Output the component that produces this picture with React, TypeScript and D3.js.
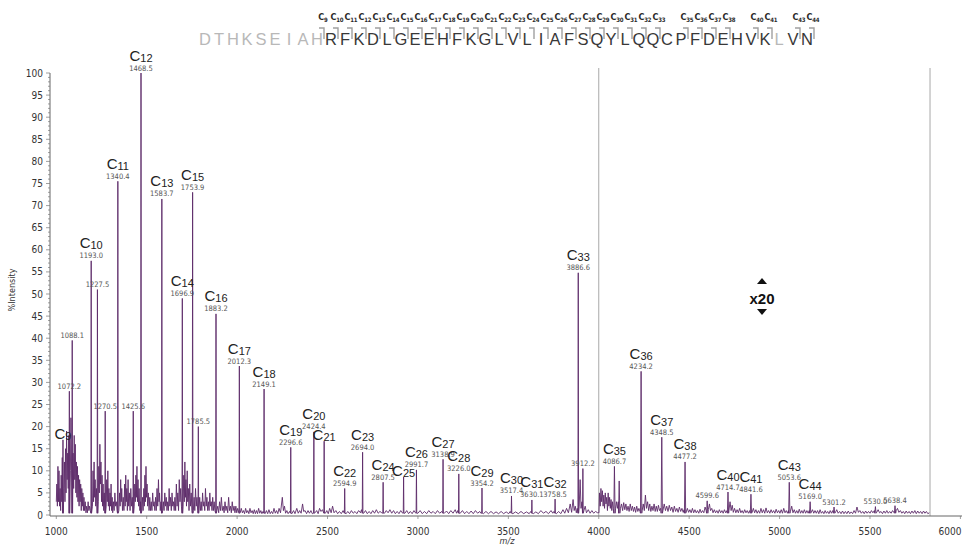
import React from "react";
import * as d3 from "d3";

const WIDTH = 962;
const HEIGHT = 546;

// Annotated peaks of the top-down spectrum: m/z, %intensity, c-ion number (0 = none)
const PEAK_MZ = [1036.9, 1072.2, 1088.1, 1193.0, 1227.5, 1270.5, 1340.4, 1425.6, 1468.5, 1583.7, 1696.9, 1753.9, 1785.5, 1883.2, 2012.3, 2149.1, 2296.6, 2424.4, 2481.4, 2594.9, 2694.0, 2807.5, 2920.7, 2991.7, 3138.9, 3226.0, 3354.2, 3517.4, 3630.1, 3758.5, 3886.6, 3912.2, 4086.7, 4113.0, 4234.2, 4348.5, 4477.2, 4599.6, 4714.7, 4841.6, 5053.6, 5169.0, 5301.2, 5530.0, 5638.4];
const PEAK_INT = [17, 28, 39.5, 57.5, 51, 23.5, 75.5, 23.5, 100, 71.5, 49, 73, 20, 45.5, 33.7, 28.5, 15.3, 18.8, 16.7, 6, 14.2, 7.4, 8.6, 10.2, 12.6, 9.3, 6.1, 4.3, 3.4, 3.6, 54.8, 10.5, 11, 7.7, 32.5, 17.6, 12, 3.2, 5.2, 4.7, 7.4, 3, 1.8, 1.9, 2.1];
const PEAK_ION = [9, 0, 0, 10, 0, 0, 11, 0, 12, 13, 14, 15, 0, 16, 17, 18, 19, 20, 21, 22, 23, 24, 25, 26, 27, 28, 29, 30, 31, 32, 33, 0, 35, 0, 36, 37, 38, 0, 40, 41, 43, 44, 0, 0, 0];
// peaks drawn without an m/z tag
const UNTAGGED_MZ = [1036.9, 2481.4, 2920.7, 4113.0];

// Baseline / chemical noise, [m/z, %intensity]
const NOISE_MAIN: [number, number][] = [
  [1000, 3], [1003, 7], [1006, 2], [1009, 11], [1012, 3], [1015, 10], [1018, 2], [1021, 6], [1024, 1], [1027, 9], [1030, 3], [1033, 13],
  [1042, 6], [1045, 12], [1048, 3], [1051, 15], [1054, 5], [1057, 19], [1060, 8], [1063, 14], [1066, 6], [1069, 18],
  [1078, 10], [1081, 22], [1084, 12], [1093, 14], [1096, 6], [1099, 18], [1102, 8], [1105, 16], [1108, 5], [1111, 12], [1114, 4],
  [1117, 11], [1120, 3], [1123, 9], [1126, 2], [1129, 8], [1132, 3], [1135, 7], [1138, 1], [1141, 6], [1144, 2], [1147, 5], [1150, 1],
  [1153, 4], [1156, 1], [1160, 3], [1164, 0.5], [1168, 2], [1172, 0.5], [1176, 3], [1180, 1], [1184, 2], [1188, 1],
  [1200, 2], [1203, 10], [1206, 3], [1209, 12], [1212, 4], [1215, 8], [1218, 2], [1222, 6], [1232, 3], [1235, 11], [1238, 5],
  [1241, 16], [1244, 7], [1247, 12], [1250, 3], [1253, 9], [1256, 2], [1259, 7], [1262, 1], [1265, 5], [1276, 2], [1279, 8],
  [1282, 3], [1285, 10], [1288, 2], [1291, 6], [1294, 1], [1297, 5], [1300, 2], [1303, 7], [1306, 1], [1309, 4], [1312, 0.5],
  [1316, 3], [1320, 1], [1324, 5], [1328, 2], [1332, 3], [1336, 1],
  [1346, 1], [1350, 5], [1353, 2], [1356, 8], [1359, 3], [1362, 6], [1366, 1], [1370, 4], [1374, 1], [1378, 7], [1381, 2], [1384, 9],
  [1387, 3], [1390, 6], [1393, 1], [1397, 8], [1400, 2], [1404, 5], [1408, 1], [1412, 6], [1416, 2], [1420, 4], [1431, 2], [1434, 7],
  [1437, 3], [1440, 9], [1443, 4], [1446, 11], [1449, 3], [1452, 8], [1455, 2], [1458, 6], [1462, 1], [1465, 3],
  [1473, 1], [1477, 4], [1480, 1], [1484, 6], [1487, 2], [1490, 9], [1493, 3], [1496, 11], [1499, 4], [1502, 7], [1505, 2], [1509, 5],
  [1513, 1], [1517, 4], [1521, 1], [1525, 3], [1529, 1], [1533, 5], [1537, 2], [1541, 3], [1545, 1], [1549, 4], [1553, 1], [1557, 6],
  [1561, 2], [1565, 8], [1568, 3], [1571, 5], [1575, 1], [1579, 3],
  [1588, 1], [1592, 3], [1596, 1], [1600, 5], [1604, 2], [1608, 4], [1612, 1], [1616, 3], [1620, 1], [1624, 6], [1628, 2], [1632, 4],
  [1636, 1], [1640, 5], [1644, 2], [1648, 3], [1652, 1], [1656, 4], [1660, 1], [1664, 7], [1668, 2], [1672, 5], [1676, 1], [1680, 8],
  [1684, 3], [1688, 6], [1692, 2],
  [1701, 2], [1705, 9], [1708, 3], [1711, 12], [1714, 4], [1717, 8], [1720, 2], [1724, 10], [1727, 3], [1730, 6], [1734, 1], [1738, 7],
  [1742, 2], [1746, 5], [1750, 1],
  [1758, 1], [1762, 4], [1766, 1], [1770, 6], [1774, 2], [1778, 4], [1782, 1], [1789, 1], [1793, 4], [1797, 1], [1801, 3], [1805, 1],
  [1809, 5], [1813, 2], [1817, 3], [1821, 1], [1825, 6], [1829, 2], [1833, 4], [1837, 1], [1841, 3], [1845, 1], [1849, 5], [1853, 2],
  [1857, 3], [1861, 1], [1865, 4], [1869, 1], [1873, 3], [1877, 1],
  [1888, 1], [1893, 2], [1898, 0.5], [1903, 3], [1908, 1], [1913, 4], [1918, 1], [1923, 2], [1928, 0.5], [1933, 3], [1938, 1], [1943, 2],
  [1948, 0.5], [1953, 4], [1958, 1], [1963, 2], [1968, 0.5], [1973, 3], [1978, 1], [1983, 2], [1988, 0.5], [1993, 2], [1998, 0.5], [2003, 1.5],
  [2017, 0.5], [2023, 1.5], [2029, 0.5], [2035, 1], [2041, 0.3], [2047, 1.5], [2053, 0.5], [2059, 1], [2065, 0.3], [2071, 1.5], [2077, 0.5],
  [2083, 1], [2089, 0.3], [2095, 1.2], [2101, 0.3], [2107, 1], [2113, 0.3], [2119, 1.5], [2125, 0.4], [2131, 1], [2137, 0.3], [2143, 0.8],
  [2155, 0.3], [2162, 1], [2169, 0.3], [2176, 1.2], [2183, 0.3], [2190, 0.8], [2197, 0.3], [2204, 1.5], [2211, 0.4], [2218, 1], [2225, 0.3],
  [2232, 1.5], [2240, 0.5], [2250, 4], [2256, 1], [2262, 2], [2268, 0.4], [2275, 1], [2282, 0.3], [2290, 0.8],
  [2303, 0.3], [2312, 1], [2320, 0.3], [2330, 1.5], [2338, 0.4], [2346, 1], [2354, 0.4], [2362, 2.5], [2368, 0.8], [2376, 1], [2384, 0.3],
  [2392, 1], [2400, 0.4], [2408, 1], [2416, 0.3],
  [2431, 0.5], [2440, 1], [2448, 0.3], [2456, 1.5], [2464, 0.8], [2472, 1.2],
  [2488, 0.4], [2496, 1], [2504, 0.3], [2512, 1.5], [2520, 0.5], [2528, 2], [2536, 0.5], [2546, 1], [2556, 0.3], [2566, 0.8], [2576, 0.3], [2586, 1],
  [2603, 0.3], [2612, 0.8], [2622, 0.3], [2632, 1], [2642, 0.4], [2652, 0.8], [2662, 0.3], [2672, 1], [2682, 0.5], [2688, 1.2],
  [2700, 0.4], [2710, 1], [2720, 0.3], [2730, 0.8], [2740, 0.3], [2750, 1], [2760, 0.4], [2770, 1.2], [2780, 0.4], [2790, 0.8], [2800, 0.5],
  [2815, 0.4], [2825, 1], [2835, 0.5], [2845, 1.2], [2855, 0.4], [2865, 1], [2875, 0.3], [2885, 0.8], [2895, 0.3], [2905, 1], [2913, 0.5],
  [2928, 0.4], [2938, 1], [2948, 0.3], [2958, 0.8], [2968, 0.3], [2978, 1], [2986, 0.5],
  [3000, 0.4], [3012, 1], [3024, 0.3], [3036, 0.8], [3048, 0.3], [3060, 1], [3072, 0.4], [3084, 0.8], [3096, 0.3], [3108, 1], [3120, 0.4], [3132, 0.8],
  [3146, 0.4], [3158, 0.9], [3170, 0.3], [3182, 1], [3194, 0.4], [3206, 1.2], [3214, 0.4], [3220, 1],
  [3234, 0.4], [3246, 1], [3258, 0.3], [3270, 0.8], [3282, 0.3], [3294, 0.9], [3306, 0.3], [3318, 1], [3330, 0.4], [3342, 0.8], [3348, 0.4],
  [3362, 0.3], [3376, 0.8], [3390, 0.3], [3404, 0.8], [3418, 0.3], [3432, 0.7], [3446, 0.3], [3460, 0.8], [3474, 0.3], [3488, 0.7], [3502, 0.3], [3510, 0.8],
  [3525, 0.3], [3540, 0.7], [3555, 0.3], [3570, 0.8], [3585, 0.3], [3600, 0.7], [3615, 0.3], [3624, 0.8],
  [3638, 0.3], [3652, 0.7], [3666, 0.3], [3680, 1], [3694, 0.4], [3708, 0.8], [3722, 0.3], [3736, 1], [3746, 0.4], [3752, 0.8],
  [3766, 0.3], [3778, 0.8], [3790, 0.3], [3802, 1.2], [3812, 0.4], [3822, 1.5], [3832, 0.5], [3842, 2.5], [3850, 0.6], [3858, 3.5], [3864, 1],
  [3870, 2], [3876, 0.5], [3881, 1.5],
  [3892, 2], [3897, 8], [3902, 1.5], [3907, 3],
  [3918, 1], [3925, 2], [3932, 0.5], [3942, 1.2], [3952, 0.4], [3962, 1], [3972, 0.4], [3982, 0.8], [3994, 0.5],
];

// Noise above m/z 4000, already shown at x20
const NOISE_X20: [number, number][] = [
  [4001, 0.5], [4004, 5], [4008, 2], [4012, 6], [4016, 3], [4020, 5.5], [4024, 2], [4028, 4.5], [4032, 1.5], [4036, 5], [4040, 2.5],
  [4044, 4], [4048, 1], [4052, 5], [4056, 2], [4060, 4], [4064, 1.5], [4068, 3.5], [4072, 1], [4076, 3], [4080, 1.5],
  [4093, 1.5], [4098, 3], [4103, 1.5], [4108, 3], [4120, 1.5], [4126, 2.5], [4132, 1], [4138, 2.8], [4144, 1.2], [4150, 2.5], [4156, 1],
  [4162, 2], [4168, 0.8], [4174, 2.5], [4180, 1], [4186, 2], [4192, 0.8], [4198, 1.8], [4204, 0.6], [4210, 2], [4216, 0.8], [4222, 1.5], [4228, 0.8],
  [4240, 1], [4246, 2.5], [4252, 1], [4258, 4.5], [4264, 1.5], [4270, 3], [4276, 1], [4282, 2.5], [4288, 0.8], [4294, 2], [4300, 1],
  [4306, 2.5], [4312, 0.8], [4318, 2], [4324, 0.8], [4330, 2.2], [4336, 1], [4342, 1.5],
  [4355, 1], [4362, 2.5], [4369, 1], [4376, 2], [4383, 0.8], [4390, 2.2], [4397, 1], [4404, 1.8], [4411, 0.6], [4418, 2], [4425, 0.8],
  [4432, 1.5], [4439, 0.6], [4446, 1.8], [4453, 0.8], [4460, 1.5], [4467, 0.6], [4472, 1.2],
  [4483, 0.6], [4490, 1.5], [4497, 0.6], [4504, 1.2], [4511, 0.5], [4518, 1.5], [4525, 0.5], [4532, 1.2], [4539, 0.5], [4546, 1],
  [4553, 0.4], [4560, 1.3], [4567, 0.5], [4574, 1], [4581, 0.5], [4588, 1.8], [4594, 1],
  [4606, 1.2], [4612, 2.5], [4618, 1], [4625, 1.5], [4632, 0.5], [4639, 1.2], [4646, 0.5], [4653, 1], [4660, 0.4], [4667, 1.2], [4674, 0.5],
  [4681, 1], [4688, 0.4], [4695, 1.2], [4702, 0.5], [4709, 1],
  [4720, 1], [4726, 3], [4732, 1], [4738, 2.2], [4744, 0.6], [4751, 1.5], [4758, 0.5], [4765, 1.2], [4772, 0.5], [4779, 1.5], [4786, 0.5],
  [4793, 1], [4800, 0.4], [4807, 1.2], [4814, 0.5], [4821, 1], [4828, 0.4], [4835, 1],
  [4848, 0.6], [4855, 1.5], [4862, 0.5], [4869, 1.2], [4876, 0.4], [4883, 1], [4890, 0.4], [4897, 1.5], [4904, 0.5], [4911, 1.2], [4918, 0.4],
  [4925, 1.6], [4932, 0.5], [4939, 1], [4946, 0.4], [4953, 1.2], [4960, 0.5], [4967, 1], [4974, 0.4], [4981, 1.3], [4988, 0.5], [4995, 1],
  [5002, 0.4], [5009, 1.2], [5016, 0.4], [5023, 1.5], [5030, 0.5], [5037, 1], [5044, 0.4], [5049, 1],
  [5060, 0.8], [5067, 2], [5074, 0.5], [5081, 1.2], [5088, 0.4], [5095, 1], [5102, 0.4], [5109, 1.3], [5116, 0.4], [5123, 1], [5130, 0.4],
  [5137, 1.2], [5144, 0.4], [5151, 1], [5158, 0.4], [5164, 1],
  [5175, 0.6], [5182, 1.2], [5189, 0.4], [5196, 1], [5203, 0.4], [5210, 1], [5217, 0.3], [5224, 1.2], [5231, 0.4], [5238, 0.8], [5245, 0.3],
  [5252, 1], [5259, 0.4], [5266, 0.8], [5273, 0.3], [5280, 1], [5287, 0.4], [5294, 1],
  [5308, 0.5], [5316, 1.2], [5324, 0.4], [5332, 0.8], [5340, 0.3], [5348, 0.9], [5356, 0.3], [5364, 0.8], [5372, 0.3], [5380, 0.9], [5388, 0.3],
  [5396, 0.7], [5404, 0.3], [5412, 1], [5420, 0.4], [5428, 1.8], [5436, 0.6], [5444, 1], [5452, 0.4], [5460, 0.8], [5468, 0.3], [5476, 0.9],
  [5484, 0.4], [5492, 0.8], [5500, 0.4], [5508, 1], [5516, 0.5], [5524, 1],
  [5537, 0.6], [5545, 1.2], [5553, 0.5], [5561, 0.8], [5569, 0.3], [5577, 0.9], [5585, 0.4], [5593, 1], [5601, 0.4], [5609, 0.8], [5617, 0.4],
  [5625, 1], [5632, 0.6],
  [5645, 1], [5652, 1.5], [5660, 0.6], [5668, 1], [5676, 0.4], [5684, 0.8], [5692, 0.3], [5700, 0.9], [5708, 0.4], [5716, 0.8], [5724, 0.3],
  [5732, 0.9], [5740, 0.4], [5748, 1], [5756, 0.3], [5764, 0.9], [5772, 0.4], [5780, 0.8], [5788, 0.3], [5796, 0.9], [5804, 0.4], [5812, 0.8],
  [5820, 0.3], [5828, 0.5],
];

const X_TICKS = [1000, 1500, 2000, 2500, 3000, 3500, 4000, 4500, 5000, 5500, 6000];
const Y_TICKS = d3.range(0, 101, 5);
const ZOOM_START = 4000;
const ZOOM_END = 5832;

// Protein sequence with c-ion cleavage sites
const SEQUENCE = "DTHKSEIAHRFKDLGEEHFKGLVLIAFSQYLQQCPFDEHVKLVN".split("");
const FADED_RESIDUES = [1, 2, 3, 4, 5, 6, 7, 8, 9, 42];
const SEQ_IONS = [9, 10, 11, 12, 13, 14, 15, 16, 17, 18, 19, 20, 21, 22, 23, 24, 25, 26, 27, 28, 29, 30, 31, 32, 33, 35, 36, 37, 38, 40, 41, 43, 44];

const NARROW = "'Liberation Sans Narrow','Arial Narrow','DejaVu Sans Condensed',sans-serif";
const SANS = "'Liberation Sans',Arial,sans-serif";
const TRACE = "#5c2a69";

export default function App() {
  const x = d3.scaleLinear().domain([1000, 6000]).range([56.3, 960.4]);
  const y = d3.scaleLinear().domain([0, 100]).range([515, 73]);
  const seqX = d3.scaleLinear().domain([1, 44]).range([205, 807]);
  const fmt = d3.format(".1f");

  const points: [number, number][] = [...NOISE_MAIN, ...NOISE_X20];
  PEAK_MZ.forEach((m, i) => {
    const w = m > ZOOM_START ? 3.5 : 1.8;
    points.push([m - w, 0.4], [m, PEAK_INT[i]], [m + w, 0.4]);
  });
  points.sort((a, b) => a[0] - b[0]);
  const line = d3
    .line<[number, number]>()
    .x((d) => x(d[0]))
    .y((d) => y(d[1]));

  const minorY = d3.range(0, 101, 1);

  return (
    <svg width={WIDTH} height={HEIGHT} style={{ display: "block", position: "absolute", left: 0, top: 0 }}>
      <rect width={WIDTH} height={HEIGHT} fill="#fff" />

      {/* sequence header */}
      <g>
        {SEQUENCE.map((r, i) => (
          <text
            key={i}
            x={seqX(i + 1)}
            y={45}
            textAnchor="middle"
            fontFamily={SANS}
            fontSize={16.5}
            fill={FADED_RESIDUES.includes(i + 1) ? "#b8b8b8" : "#383838"}
          >
            {r}
          </text>
        ))}
        {SEQ_IONS.map((n) => {
          const xb = seqX(n + 0.5);
          return (
            <g key={n}>
              <path d={`M${xb - 5},28H${xb}V39`} fill="none" stroke="#a0a0a0" strokeWidth={1.4} />
              <text
                x={xb - 1}
                y={20}
                textAnchor="middle"
                fontFamily={NARROW}
                fontWeight="bold"
                fontSize={9}
                letterSpacing={-0.2}
                fill="#2a2a2a"
              >
                C<tspan fontSize={6} dy={1.5}>{n}</tspan>
              </text>
            </g>
          );
        })}
      </g>

      {/* x20 region boundaries */}
      {[ZOOM_START, ZOOM_END].map((m) => (
        <line key={m} x1={x(m)} x2={x(m)} y1={68} y2={516} stroke="#a8a8a8" strokeWidth={1} />
      ))}

      {/* spectrum */}
      <path d={line(points) || ""} fill="none" stroke={TRACE} strokeWidth={0.9} strokeLinejoin="round" />

      {/* y axis */}
      <g>
        <line x1={50} x2={50} y1={y(100)} y2={516} stroke="#666" />
        {minorY.map((v) => (
          <line key={v} x1={v % 5 === 0 ? 46 : 48} x2={50} y1={y(v)} y2={y(v)} stroke="#777" strokeWidth={0.7} />
        ))}
        {Y_TICKS.map((v) => (
          <text key={v} x={43} y={y(v) + 3.5} textAnchor="end" fontFamily={NARROW} fontSize={10} fill="#333">
            {v}
          </text>
        ))}
        <text
          transform={`translate(15,${290}) rotate(-90)`}
          textAnchor="middle"
          fontFamily={NARROW}
          fontSize={9}
          fill="#333"
        >
          %Intensity
        </text>
      </g>

      {/* x axis */}
      <g>
        <line x1={50} x2={962} y1={516} y2={516} stroke="#666" />
        {X_TICKS.map((v) => (
          <g key={v}>
            <line x1={x(v)} x2={x(v)} y1={516} y2={519} stroke="#777" strokeWidth={0.7} />
            <text x={Math.min(x(v), 950)} y={535} textAnchor="middle" fontFamily={NARROW} fontSize={10} fill="#333">
              {v}
            </text>
          </g>
        ))}
        <text x={507} y={544} textAnchor="middle" fontFamily={NARROW} fontStyle="italic" fontSize={9} fill="#333">
          m/z
        </text>
      </g>

      {/* peak annotations */}
      <g>
        {PEAK_MZ.map((m, i) => {
          const tip = y(PEAK_INT[i]);
          const tagged = !UNTAGGED_MZ.includes(m);
          const ion = PEAK_ION[i];
          return (
            <g key={m}>
              {tagged && (
                <text x={x(m)} y={tip - 2.5} textAnchor="middle" fontFamily={NARROW} fontSize={7.5} fill="#555">
                  {fmt(m)}
                </text>
              )}
              {ion > 0 && (
                <text
                  x={x(m)}
                  y={tagged ? tip - 12.5 : tip - 1}
                  textAnchor="middle"
                  fontFamily={SANS}
                  fontSize={15}
                  fill="#222"
                >
                  C<tspan fontSize={11} dy={1}>{ion}</tspan>
                </text>
              )}
            </g>
          );
        })}
      </g>

      {/* x20 marker */}
      <g fill="#111">
        <path d="M757,284L762,278L767,284Z" />
        <path d="M757,309L762,315L767,309Z" />
        <text x={762} y={304} textAnchor="middle" fontFamily={SANS} fontWeight="bold" fontSize={15}>
          x20
        </text>
      </g>
    </svg>
  );
}
